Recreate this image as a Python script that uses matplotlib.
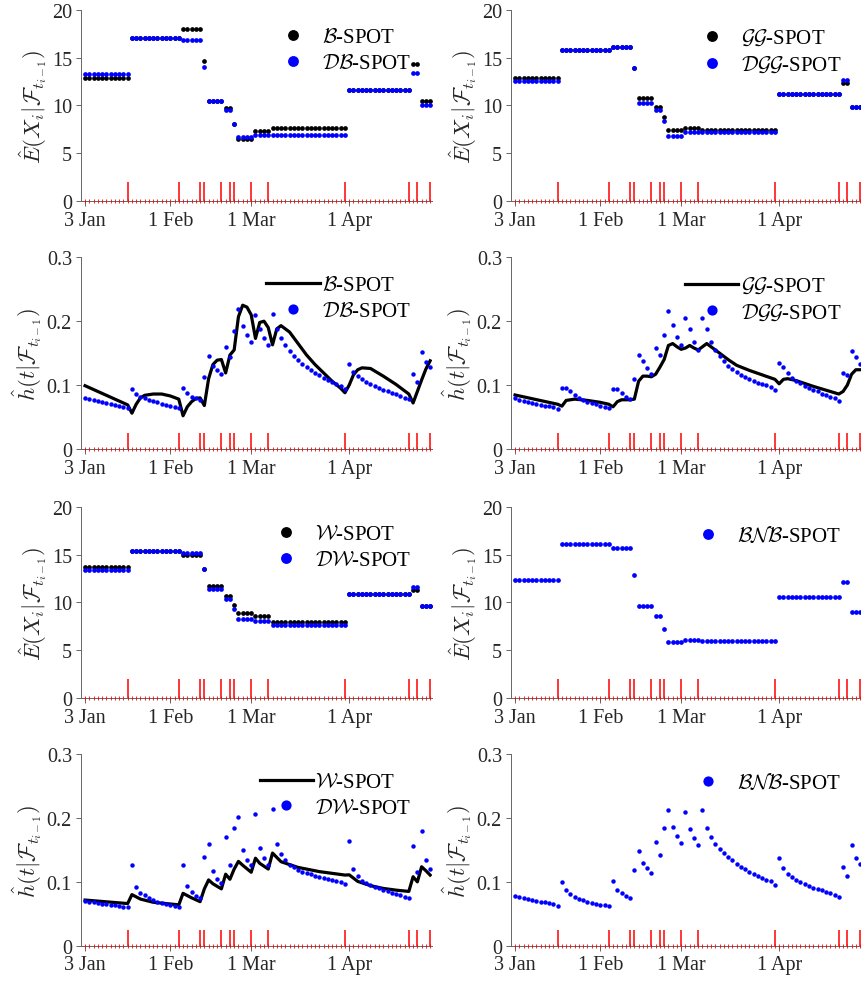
import numpy as np
import pandas as pd
import matplotlib
matplotlib.use("Agg")
import matplotlib.pyplot as plt

# --- DATOS ---
# dias de mercado (sin fines de semana ni festivos)
fechas = pd.bdate_range("2022-01-03", "2022-04-29", freq="C",
                        holidays=["2022-01-17", "2022-02-21", "2022-04-15"])
idx = np.arange(len(fechas))

# indices de los eventos (lineas rojas)
eventos = [10, 22, 27, 28, 32, 34, 35, 39, 43, 61, 76, 78, 81]

# esperanza condicional, un valor por tramo entre eventos
E_B = [12.83, 17.04, 17.95, 14.6, 10.5, 9.74, 8.1, 6.5, 7.3, 7.62, 11.65, 14.3, 10.43]
E_DB = [13.25, 17.05, 16.8, 14.0, 10.5, 9.53, 8.07, 6.75, 6.96, 6.96, 11.65, 13.4, 10.09]
E_GG = [12.9, 15.83, 16.15, 13.9, 10.78, 9.88, 8.77, 7.41, 7.62, 7.4, 11.2, 12.35, 9.8]
E_DGG = [12.56, 15.83, 16.1, 13.9, 10.3, 9.57, 8.35, 6.82, 7.27, 7.27, 11.2, 12.7, 9.8]
E_W = [13.7, 15.4, 15.0, 13.5, 11.76, 10.7, 9.76, 8.93, 8.58, 7.99, 10.86, 11.35, 9.62]
E_DW = [13.4, 15.4, 15.2, 13.5, 11.38, 10.35, 9.34, 8.24, 8.06, 7.61, 10.86, 11.6, 9.62]
E_BNB = [12.39, 16.06, 15.71, 12.87, 9.65, 8.55, 7.2, 5.92, 6.12, 5.99, 10.59, 12.11, 8.96]

# intensidad de los modelos dinamicos (un punto por dia)
h_DB = [0.079, 0.0775, 0.076, 0.0745, 0.073, 0.0715, 0.070, 0.0685, 0.067, 0.0655, 0.064,
        0.094, 0.086, 0.082, 0.079, 0.077, 0.075, 0.073, 0.071, 0.069, 0.067, 0.065, 0.064,
        0.0955, 0.087, 0.082, 0.079, 0.077,
        0.113,
        0.1455, 0.130, 0.1236, 0.117,
        0.160, 0.1435,
        0.184,
        0.2186, 0.193, 0.179, 0.168,
        0.210, 0.187, 0.173, 0.162,
        0.211, 0.187, 0.173, 0.162, 0.154, 0.146, 0.139, 0.133, 0.128, 0.123, 0.119, 0.115,
        0.111, 0.108, 0.105, 0.102, 0.099, 0.094,
        0.133, 0.120, 0.114, 0.109, 0.105, 0.102, 0.099, 0.096, 0.093, 0.091, 0.088, 0.0855,
        0.083, 0.080, 0.078,
        0.117, 0.105,
        0.152, 0.136, 0.128]
h_DGG = [0.079, 0.077, 0.075, 0.0735, 0.072, 0.0705, 0.069, 0.068, 0.0665, 0.065, 0.063,
         0.096, 0.096, 0.090, 0.084, 0.080, 0.077, 0.074, 0.072, 0.070, 0.068, 0.066, 0.064,
         0.094, 0.094, 0.0876, 0.082, 0.078,
         0.109,
         0.1466, 0.138, 0.127, 0.118,
         0.158, 0.147,
         0.179,
         0.216, 0.194, 0.175, 0.162,
         0.2056, 0.187, 0.1675, 0.155,
         0.2056, 0.187, 0.1675, 0.155, 0.145, 0.137, 0.130, 0.125, 0.120, 0.116, 0.112, 0.109,
         0.1065, 0.104, 0.102, 0.0996, 0.0975, 0.093,
         0.135, 0.129, 0.119, 0.111, 0.1065, 0.103, 0.099, 0.096, 0.093, 0.090, 0.0866, 0.084,
         0.0814, 0.079, 0.0746,
         0.1195, 0.116,
         0.154, 0.1445, 0.1325]
h_DW = [0.070, 0.069, 0.068, 0.067, 0.066, 0.065, 0.064, 0.063, 0.062, 0.061, 0.060,
        0.126, 0.092, 0.083, 0.079, 0.075, 0.072, 0.069, 0.067, 0.065, 0.063, 0.0615, 0.060,
        0.127, 0.094, 0.0835, 0.078, 0.074,
        0.139,
        0.159, 0.117, 0.105, 0.098,
        0.1706, 0.126,
        0.1847,
        0.202, 0.150, 0.1346, 0.126,
        0.2055, 0.153, 0.138, 0.127,
        0.2144, 0.160, 0.1435, 0.134, 0.127, 0.1226, 0.119, 0.116, 0.1137, 0.1116, 0.1095, 0.108,
        0.1064, 0.105, 0.103, 0.1017, 0.099, 0.096,
        0.164, 0.1205, 0.109, 0.102, 0.098, 0.095, 0.092, 0.090, 0.087, 0.085, 0.083, 0.081,
        0.079, 0.077, 0.075,
        0.1565, 0.115,
        0.180, 0.1335, 0.120]
h_BNB = [0.0782, 0.0762, 0.0746, 0.073, 0.0715, 0.0699, 0.0689, 0.0678, 0.0668, 0.0652, 0.0626,
         0.099, 0.087, 0.081, 0.0767, 0.0736, 0.071, 0.069, 0.067, 0.0657, 0.064, 0.063, 0.0616,
         0.101, 0.088, 0.082, 0.078, 0.075,
         0.1184,
         0.1487, 0.130, 0.121, 0.1137,
         0.163, 0.1424,
         0.1847,
         0.213, 0.186, 0.172, 0.161,
         0.209, 0.1826, 0.1685, 0.1575,
         0.2123, 0.185, 0.1706, 0.160, 0.152, 0.145, 0.1388, 0.1336, 0.128, 0.1236, 0.1195, 0.1158,
         0.112, 0.109, 0.106, 0.1033, 0.1007, 0.0955,
         0.138, 0.121, 0.1127, 0.107, 0.1028, 0.099, 0.096, 0.0934, 0.0908, 0.0887, 0.0866, 0.0845,
         0.0824, 0.080, 0.076,
         0.124, 0.1085,
         0.1575, 0.1377, 0.128]

# intensidad de los modelos estaticos (curva negra): dia, valor
t_B = [0, 10, 11, 12, 13, 14, 16, 18, 20, 22, 23, 24, 25, 26, 27, 28, 29, 30, 31, 32, 33, 34, 35,
       36, 37, 38, 39, 40, 41, 42, 43, 44, 45, 46, 48, 50, 52, 54, 56, 58, 60, 61, 62, 63, 64, 65,
       67, 70, 73, 76, 77, 78, 79, 80, 81]
l_B = [0.099, 0.069, 0.056, 0.070, 0.080, 0.084, 0.086, 0.086, 0.083, 0.078, 0.052, 0.066, 0.074,
       0.079, 0.080, 0.068, 0.110, 0.132, 0.139, 0.140, 0.119, 0.147, 0.155, 0.207, 0.225, 0.222,
       0.210, 0.173, 0.198, 0.200, 0.190, 0.163, 0.188, 0.193, 0.183, 0.165, 0.147, 0.132, 0.119,
       0.106, 0.095, 0.088, 0.100, 0.116, 0.124, 0.127, 0.126, 0.114, 0.101, 0.086, 0.072, 0.090,
       0.108, 0.125, 0.138]
t_GG = [0, 10, 11, 12, 14, 17, 20, 22, 23, 24, 25, 27, 28, 29, 30, 31, 32, 33, 34, 35, 36, 37, 38,
        39, 40, 41, 42, 43, 44, 45, 46, 48, 50, 52, 55, 58, 61, 62, 63, 64, 66, 70, 73, 76, 77, 78,
        79, 80, 81]
l_GG = [0.0845, 0.070, 0.067, 0.076, 0.078, 0.076, 0.073, 0.070, 0.066, 0.074, 0.077, 0.077, 0.078,
        0.106, 0.114, 0.114, 0.113, 0.117, 0.128, 0.140, 0.162, 0.165, 0.160, 0.156, 0.158, 0.162,
        0.158, 0.155, 0.160, 0.165, 0.160, 0.150, 0.140, 0.131, 0.123, 0.116, 0.109, 0.102, 0.109,
        0.110, 0.107, 0.098, 0.092, 0.086, 0.090, 0.100, 0.117, 0.124, 0.124]
t_W = [0, 10, 11, 13, 16, 19, 22, 23, 25, 27, 28, 29, 30, 32, 33, 34, 35, 36, 37, 39, 40, 41, 43,
       44, 46, 48, 50, 55, 61, 62, 64, 67, 70, 73, 76, 77, 78, 79, 80, 81]
l_W = [0.0715, 0.066, 0.080, 0.073, 0.068, 0.066, 0.064, 0.082, 0.075, 0.069, 0.089, 0.103, 0.097,
       0.089, 0.112, 0.104, 0.120, 0.132, 0.126, 0.115, 0.137, 0.129, 0.120, 0.145, 0.1315, 0.127,
       0.1226, 0.116, 0.1106, 0.111, 0.1007, 0.094, 0.0897, 0.087, 0.085, 0.108, 0.100, 0.1236,
       0.1174, 0.1106]

# --- FUNCIONES ---
plt.rcParams['font.family'] = ['Liberation Serif', 'DejaVu Serif']
plt.rcParams['mathtext.fontset'] = 'cm'

# longitudes de los tramos entre eventos
inicios = [0] + [e + 1 for e in eventos[:-1]]
largos = np.diff(inicios + [len(idx)])

meses = fechas.to_series().groupby([fechas.year, fechas.month]).head(1)
tick_pos = [fechas.get_loc(d) for d in meses.index]
tick_lab = [f"{d.day} {d.strftime('%b')}" for d in meses.index]


def tramos(valores):
    return np.repeat(valores, largos)


def preparar(ax, alto_evento, yticks, ylabels, ylabel):
    ax.vlines(eventos, 0, alto_evento, color='red', lw=1.1, zorder=3)
    ax.plot(idx, np.zeros(len(idx)), ls='none', marker='|', ms=2.4, mew=0.6,
            color='red', clip_on=False, zorder=3)
    ax.set_xlim(-0.95, 81.45)
    ax.set_ylim(0, yticks[-1])
    ax.set_yticks(yticks)
    ax.set_yticklabels(ylabels)
    ax.set_xticks(tick_pos)
    ax.set_xticklabels(tick_lab)
    for s in ['top', 'right']:
        ax.spines[s].set_visible(False)
    for s in ['left', 'bottom']:
        ax.spines[s].set_color('0.4')
        ax.spines[s].set_linewidth(0.7)
    ax.tick_params(direction='out', length=3.5, width=0.7, color='0.4',
                   labelsize=14.5, labelcolor='0.15')
    ax.tick_params(axis='x', pad=3.5)
    ax.tick_params(axis='y', pad=3)
    ax.set_ylabel(ylabel, fontsize=16.5, color='0.15', labelpad=2)
    ax.legend(loc='upper right', bbox_to_anchor=(0.94, 0.905), frameon=False,
              fontsize=15, handlelength=2.55, handletextpad=0.1, labelspacing=0.3,
              borderpad=0, borderaxespad=0, markerscale=2.3, numpoints=1)


def panel_E(ax, negro, azul, nombre_n, nombre_a):
    if negro is not None:
        ax.plot(idx, tramos(negro), 'o', ms=3.4, color='black', mec='none', label=nombre_n)
    ax.plot(idx, tramos(azul), 'o', ms=3.4, color='blue', mec='none', label=nombre_a)
    preparar(ax, 2, [0, 5, 10, 15, 20], ['0', '5', '10', '15', '20'],
             r'$\hat{E}(X_i|\mathcal{F}_{t_{i-1}})$')


def panel_h(ax, t, linea, azul, nombre_n, nombre_a):
    if t is not None:
        ax.plot(t, linea, color='black', lw=2.3, label=nombre_n)
    ax.plot(idx, azul, 'o', ms=3.2, color='blue', mec='none', label=nombre_a)
    preparar(ax, 0.025, [0, 0.1, 0.2, 0.3], ['0', '0.1', '0.2', '0.3'],
             r'$\hat{h}(t|\mathcal{F}_{t_{i-1}})$')


# --- FIGURA ---
fig = plt.figure(figsize=(8.61, 9.87), dpi=100)
izq, der, ancho = 0.0941, 0.5935, 0.4077
abajo = [0.795, 0.5441, 0.2915, 0.0408]
alto = 0.1942

ax1 = fig.add_axes([izq, abajo[0], ancho, alto])
ax2 = fig.add_axes([der, abajo[0], ancho, alto])
ax3 = fig.add_axes([izq, abajo[1], ancho, alto])
ax4 = fig.add_axes([der, abajo[1], ancho, alto])
ax5 = fig.add_axes([izq, abajo[2], ancho, alto])
ax6 = fig.add_axes([der, abajo[2], ancho, alto])
ax7 = fig.add_axes([izq, abajo[3], ancho, alto])
ax8 = fig.add_axes([der, abajo[3], ancho, alto])

panel_E(ax1, E_B, E_DB, r'$\mathcal{B}$-SPOT', r'$\mathcal{DB}$-SPOT')
panel_E(ax2, E_GG, E_DGG, r'$\mathcal{GG}$-SPOT', r'$\mathcal{DGG}$-SPOT')
panel_h(ax3, t_B, l_B, h_DB, r'$\mathcal{B}$-SPOT', r'$\mathcal{DB}$-SPOT')
panel_h(ax4, t_GG, l_GG, h_DGG, r'$\mathcal{GG}$-SPOT', r'$\mathcal{DGG}$-SPOT')
panel_E(ax5, E_W, E_DW, r'$\mathcal{W}$-SPOT', r'$\mathcal{DW}$-SPOT')
panel_E(ax6, None, E_BNB, None, r'$\mathcal{BNB}$-SPOT')
panel_h(ax7, t_W, l_W, h_DW, r'$\mathcal{W}$-SPOT', r'$\mathcal{DW}$-SPOT')
panel_h(ax8, None, None, h_BNB, None, r'$\mathcal{BNB}$-SPOT')

fig.savefig("out.png", dpi=100)
